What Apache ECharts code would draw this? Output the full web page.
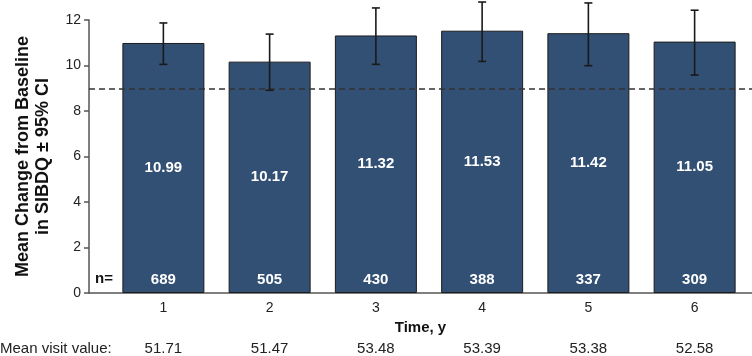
<!DOCTYPE html>
<html>
<head>
<meta charset="utf-8">
<script src="https://cdn.jsdelivr.net/npm/echarts@6/dist/echarts.min.js"></script>
<style>html,body{margin:0;padding:0;background:#fff}#c{width:752px;height:356px}</style>
</head>
<body>
<div id="c"></div>
<script>
var years = [1, 2, 3, 4, 5, 6];
var meanChange = [10.99, 10.17, 11.32, 11.53, 11.42, 11.05];
var ciLower = [10.05, 8.91, 10.05, 10.18, 9.99, 9.58];
var ciUpper = [11.87, 11.38, 12.53, 12.79, 12.75, 12.43];
var nCounts = [689, 505, 430, 388, 337, 309];
var meanVisit = ['51.71', '51.47', '53.48', '53.39', '53.38', '52.58'];
var refLine = 9;
var yTicks = [0, 2, 4, 6, 8, 10, 12];

var FONT = '"Liberation Sans", Arial, sans-serif';
var chart = echarts.init(document.getElementById('c'), null, {renderer: 'canvas'});

var barData = years.map(function (y, i) { return [y, meanChange[i]]; });
var errData = years.map(function (y, i) { return [y, ciLower[i], ciUpper[i]]; });
var nData = years.map(function (y, i) { return [y, 0]; });

chart.setOption({
  animation: false,
  backgroundColor: '#fff',
  textStyle: {fontFamily: FONT},
  grid: {left: 89, right: 0, top: 20, bottom: 63},
  xAxis: [{
    type: 'value', min: 0.3, max: 6.54,
    splitLine: {show: false},
    axisLine: {lineStyle: {color: '#555', width: 1.5}},
    axisTick: {show: false},
    axisLabel: {customValues: years, color: '#222', fontSize: 14, margin: 8, fontFamily: FONT},
    name: 'Time, y', nameLocation: 'middle', nameGap: 27,
    nameTextStyle: {fontWeight: 'bold', fontSize: 15, color: '#111', fontFamily: FONT}
  }, {
    type: 'value', min: 0.3, max: 6.54, position: 'bottom', offset: 48,
    splitLine: {show: false},
    axisLine: {show: false},
    axisTick: {show: false},
    axisLabel: {
      customValues: years, color: '#222', fontSize: 15, margin: 0, fontFamily: FONT,
      formatter: function (v) { return meanVisit[years.indexOf(Math.round(v))]; }
    }
  }],
  yAxis: {
    type: 'value', min: 0, max: 12, interval: 2,
    splitLine: {show: false},
    axisLine: {show: true, lineStyle: {color: '#555', width: 1.5}},
    axisTick: {show: true, length: 5, lineStyle: {color: '#555', width: 1.5}},
    axisLabel: {color: '#222', fontSize: 14, margin: 8, fontFamily: FONT},
    name: 'Mean Change from Baseline\nin SIBDQ ± 95% CI',
    nameLocation: 'middle', nameGap: 36, nameRotate: 90,
    nameTextStyle: {fontWeight: 'bold', fontSize: 18, color: '#111', lineHeight: 20, fontFamily: FONT}
  },
  series: [{
    type: 'bar',
    data: barData,
    barWidth: 82,
    itemStyle: {color: '#324F74', borderColor: '#1c1c1c', borderWidth: 1},
    label: {
      show: true, position: 'inside', color: '#fff', fontWeight: 'bold', fontSize: 15, fontFamily: FONT,
      formatter: function (p) { return p.value[1].toFixed(2); }
    },
    markLine: {
      silent: true, symbol: 'none',
      lineStyle: {color: '#333', type: [6, 4], width: 1.6},
      label: {show: false},
      data: [{yAxis: refLine}]
    },
    z: 2
  }, {
    type: 'scatter',
    data: nData,
    symbolSize: 0,
    itemStyle: {opacity: 1},
    label: {
      show: true, position: 'top', distance: 6, color: '#fff', fontWeight: 'bold', fontSize: 15, fontFamily: FONT,
      formatter: function (p) { return String(nCounts[p.dataIndex]); }
    },
    z: 5
  }, {
    type: 'custom',
    data: errData,
    z: 6,
    renderItem: function (params, api) {
      var x = api.value(0);
      var lo = api.coord([x, api.value(1)]);
      var hi = api.coord([x, api.value(2)]);
      var cap = 4;
      var style = {stroke: '#1a1a1a', lineWidth: 1.6, fill: null};
      return {
        type: 'group',
        children: [
          {type: 'line', shape: {x1: lo[0], y1: lo[1], x2: hi[0], y2: hi[1]}, style: style},
          {type: 'line', shape: {x1: lo[0] - cap, y1: lo[1], x2: lo[0] + cap, y2: lo[1]}, style: style},
          {type: 'line', shape: {x1: hi[0] - cap, y1: hi[1], x2: hi[0] + cap, y2: hi[1]}, style: style}
        ]
      };
    }
  }],
  graphic: [{
    type: 'text', left: 95, top: 271,
    style: {text: 'n=', fill: '#111', font: 'bold 15px ' + FONT}
  }, {
    type: 'text', left: 0, top: 341,
    style: {text: 'Mean visit value:', fill: '#222', font: '15px ' + FONT}
  }]
});
</script>
</body>
</html>
